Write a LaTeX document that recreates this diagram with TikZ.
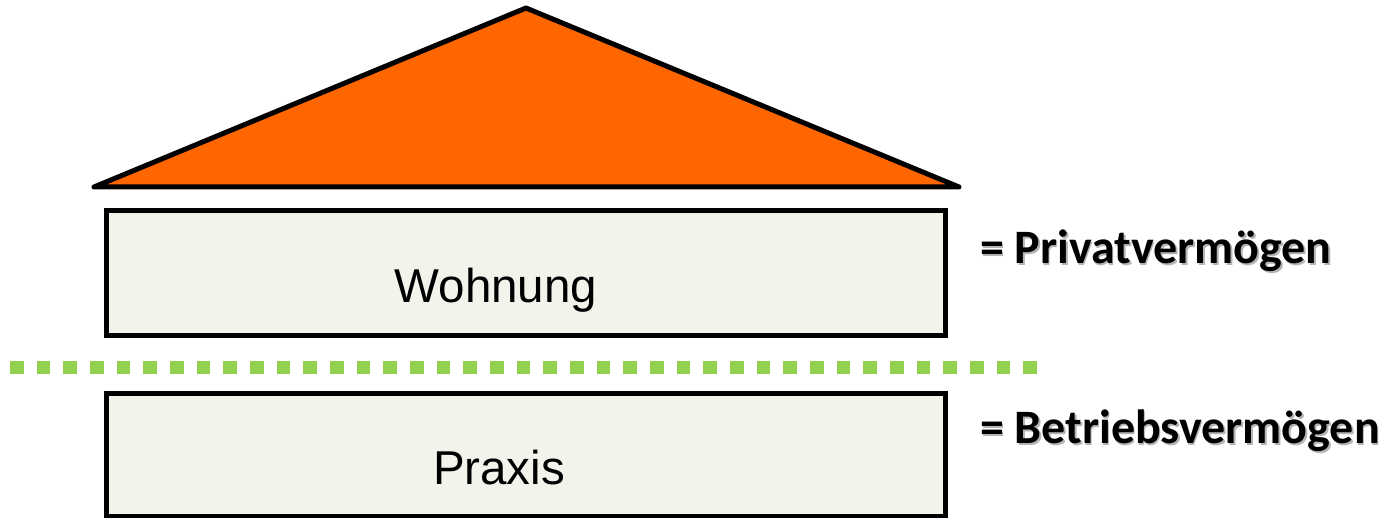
\documentclass[tikz,border=0pt]{standalone}
\usepackage{fontspec}
\setmainfont{Liberation Sans}
\newfontfamily\labelfont{Carlito}
\definecolor{roof}{HTML}{FF6600}
\definecolor{floorfill}{HTML}{F3F3EB}
\definecolor{divider}{HTML}{92D050}
\definecolor{shade}{HTML}{B4B4B4}
\begin{document}
\begin{tikzpicture}[x=1pt,y=-1pt,
  floorbox/.style={draw=black,fill=floorfill,line width=5pt,line join=miter,
    rectangle,inner sep=0pt,minimum width=839pt,minimum height=#1},
  floortext/.style={font=\fontsize{47.5}{52}\selectfont,inner sep=0pt},
  sidelabel/.style={font=\labelfont\bfseries\fontsize{48}{53}\selectfont,inner sep=0pt,anchor=base west},
  sideshadow/.style={sidelabel,text=shade}]
  \useasboundingbox (0,0) rectangle (1382,518);
  % roof
  \coordinate (apex) at (526,8);
  \coordinate (eaveL) at (94,187);
  \coordinate (eaveR) at (959,187);
  \draw[fill=roof,line width=5pt,line join=round] (apex) -- (eaveR) -- (eaveL) -- cycle;
  % upper floor
  \node[floorbox=125pt] (wohnung) at (525.5,273.5) {};
  \node[floortext] (wohnungtext) at (496,290) {Wohnung};
  % dividing line
  \coordinate (divL) at (10,368);
  \coordinate (divR) at (1037,368);
  \draw[divider,line width=13pt,dash pattern=on 13.5pt off 13.17pt] (divL) -- (divR);
  % lower floor
  \node[floorbox=122.5pt] (praxis) at (525.5,454.75) {};
  \node[floortext] (praxistext) at (499,468) {Praxis};
  % labels with drop shadow
  \node[sideshadow] (privshadow) at (981.5,265.5) {= Privatverm\"ogen};
  \node[sidelabel] (priv) at (980,263.5) {= Privatverm\"ogen};
  \node[sideshadow] (betrshadow) at (981.5,446) {= Betriebsverm\"ogen};
  \node[sidelabel] (betr) at (980,444) {= Betriebsverm\"ogen};
\end{tikzpicture}
\end{document}
